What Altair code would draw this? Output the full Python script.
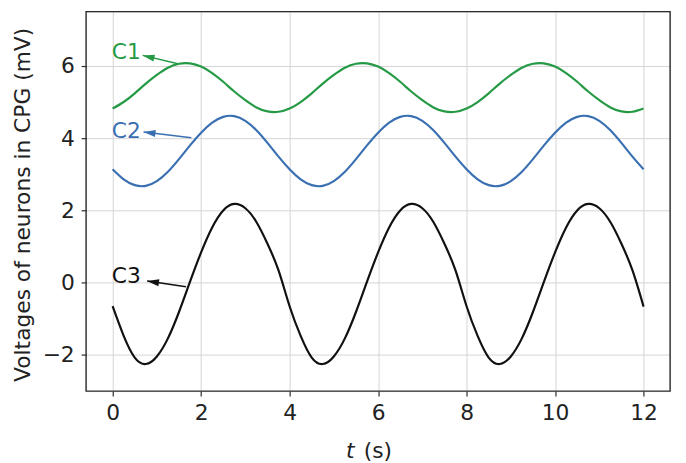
import math
import altair as alt
import pandas as pd

# ---- data ----
t = [i * 0.25 for i in range(49)]

c1 = [4.82, 5.00, 5.24, 5.51, 5.75, 5.95, 6.06, 6.07, 5.98, 5.80, 5.56, 5.29, 5.05, 4.85, 4.74, 4.73,
      4.82, 5.00, 5.24, 5.51, 5.75, 5.95, 6.06, 6.07, 5.98, 5.80, 5.56, 5.29, 5.05, 4.85, 4.74, 4.73,
      4.82, 5.00, 5.24, 5.51, 5.75, 5.95, 6.06, 6.07, 5.98, 5.80, 5.56, 5.29, 5.05, 4.85, 4.74, 4.73,
      4.82]
c2 = [3.14, 2.86, 2.70, 2.68, 2.81, 3.07, 3.42, 3.80, 4.15, 4.43, 4.59, 4.61, 4.48, 4.22, 3.87, 3.49,
      3.14, 2.86, 2.70, 2.68, 2.81, 3.07, 3.42, 3.80, 4.15, 4.43, 4.59, 4.61, 4.48, 4.22, 3.87, 3.49,
      3.14, 2.86, 2.70, 2.68, 2.81, 3.07, 3.42, 3.80, 4.15, 4.43, 4.59, 4.61, 4.48, 4.22, 3.87, 3.49,
      3.14]
c3 = [-0.65, -1.47, -2.07, -2.25, -2.04, -1.54, -0.81, 0.03, 0.84, 1.53, 2.00, 2.18, 2.06, 1.68, 1.08, 0.34,
      -0.65, -1.47, -2.07, -2.25, -2.04, -1.54, -0.81, 0.03, 0.84, 1.53, 2.00, 2.18, 2.06, 1.68, 1.08, 0.34,
      -0.65, -1.47, -2.07, -2.25, -2.04, -1.54, -0.81, 0.03, 0.84, 1.53, 2.00, 2.18, 2.06, 1.68, 1.08, 0.34,
      -0.66]

series_names = ["C1", "C2", "C3"]
series_colors = ["#259a45", "#3a70b2", "#111111"]

# annotations: label position, arrow head (tip) and arrow tail
ann_labels = ["C1", "C2", "C3"]
ann_text_x = [-0.02, -0.02, -0.02]
ann_text_y = [6.38, 4.19, 0.18]
ann_head_x = [0.68, 0.70, 0.78]
ann_head_y = [6.29, 4.17, 0.05]
ann_tail_x = [1.50, 1.78, 1.66]
ann_tail_y = [6.05, 4.01, -0.11]

x_ticks = [0, 2, 4, 6, 8, 10, 12]
y_ticks = [-2, 0, 2, 4, 6]
x_dom = [-0.6, 12.6]
y_dom = [-3.0, 7.5]

W, H = 591, 384
FONT = "DejaVu Sans"
FS = 22
TXT = "#222222"
FRAME = "#2b2b2b"

# ---- tables ----
rows = []
for name, vals in zip(series_names, [c1, c2, c3]):
    for tt, v in zip(t, vals):
        rows.append({"t": tt, "v": v, "series": name})
lines_df = pd.DataFrame(rows)

sx = W / (x_dom[1] - x_dom[0])
sy = H / (y_dom[1] - y_dom[0])
angles = []
for hx, hy, tx, ty in zip(ann_head_x, ann_head_y, ann_tail_x, ann_tail_y):
    dx = (hx - tx) * sx
    dy = -(hy - ty) * sy
    angles.append(math.degrees(math.atan2(dx, -dy)) % 360)

ann_df = pd.DataFrame({
    "series": ann_labels, "lx": ann_text_x, "ly": ann_text_y,
    "hx": ann_head_x, "hy": ann_head_y, "tx": ann_tail_x, "ty": ann_tail_y,
    "angle": angles,
})

color_scale = alt.Scale(domain=series_names, range=series_colors)

xs = alt.Scale(domain=x_dom, nice=False, zero=False)
ys = alt.Scale(domain=y_dom, nice=False, zero=False)

x_axis = alt.Axis(values=x_ticks, title=None, format="d", grid=True, gridColor="#d4d4d4",
                  gridWidth=1, tickSize=5, tickColor=FRAME, tickWidth=1.2, domain=False,
                  labelPadding=7, labelFontSize=FS, labelFont=FONT, labelColor=TXT)
y_axis = alt.Axis(values=y_ticks, format="d", grid=True, gridColor="#d4d4d4",
                  gridWidth=1, tickSize=5, tickColor=FRAME, tickWidth=1.2, domain=False,
                  labelPadding=7, labelFontSize=FS, labelFont=FONT, labelColor=TXT,
                  labelExpr="replace(datum.label, '-', '\u2212')",
                  title="Voltages of neurons in CPG (mV)", titleFont=FONT, titleFontSize=FS,
                  titleFontWeight="normal", titleColor=TXT, titleAngle=270,
                  titleX=-64, titleY=195, titleAlign="center", titleBaseline="middle")

base_lines = alt.Chart(lines_df).mark_line(strokeWidth=2.2, interpolate="natural").encode(
    x=alt.X("t:Q", scale=xs, axis=x_axis),
    y=alt.Y("v:Q", scale=ys, axis=y_axis),
    color=alt.Color("series:N", scale=color_scale, legend=None),
    detail="series:N",
)

shafts = alt.Chart(ann_df).mark_rule(strokeWidth=1.5).encode(
    x=alt.X("tx:Q", scale=xs), y=alt.Y("ty:Q", scale=ys),
    x2="hx:Q", y2="hy:Q",
    color=alt.Color("series:N", scale=color_scale, legend=None),
)

heads = alt.Chart(ann_df).mark_point(
    shape="M0,0L-0.6,2L0.6,2Z", filled=True, size=144, opacity=1, strokeWidth=0
).encode(
    x=alt.X("hx:Q", scale=xs), y=alt.Y("hy:Q", scale=ys),
    angle=alt.Angle("angle:Q", scale=None),
    color=alt.Color("series:N", scale=color_scale, legend=None),
)

labels = alt.Chart(ann_df).mark_text(
    font=FONT, fontSize=FS, align="left", baseline="middle"
).encode(
    x=alt.X("lx:Q", scale=xs), y=alt.Y("ly:Q", scale=ys),
    text="series:N",
    color=alt.Color("series:N", scale=color_scale, legend=None),
)

frame = alt.Chart(pd.DataFrame({"k": [0]})).mark_rect(
    fill=None, fillOpacity=0, stroke=FRAME, strokeWidth=1.4
).encode(x=alt.value(0), x2=alt.value(W), y=alt.value(0), y2=alt.value(H))

xtitle_t = alt.Chart(pd.DataFrame({"txt": ["t"]})).mark_text(
    font=FONT, fontSize=FS, fontStyle="italic", align="left", baseline="alphabetic", color=TXT
).encode(x=alt.value(263), y=alt.value(452), text="txt:N")
xtitle_s = alt.Chart(pd.DataFrame({"txt": ["(s)"]})).mark_text(
    font=FONT, fontSize=FS, align="left", baseline="alphabetic", color=TXT
).encode(x=alt.value(281), y=alt.value(452), text="txt:N")

chart = alt.layer(base_lines, shafts, heads, labels, frame, xtitle_t, xtitle_s).properties(
    width=W, height=H,
    autosize=alt.AutoSizeParams(type="none"),
    padding={"left": 79, "top": 1, "right": 8, "bottom": 70},
).configure_view(stroke=None).configure(background="white")

chart.save("out.html", embed_options={"renderer": "svg", "actions": False})
